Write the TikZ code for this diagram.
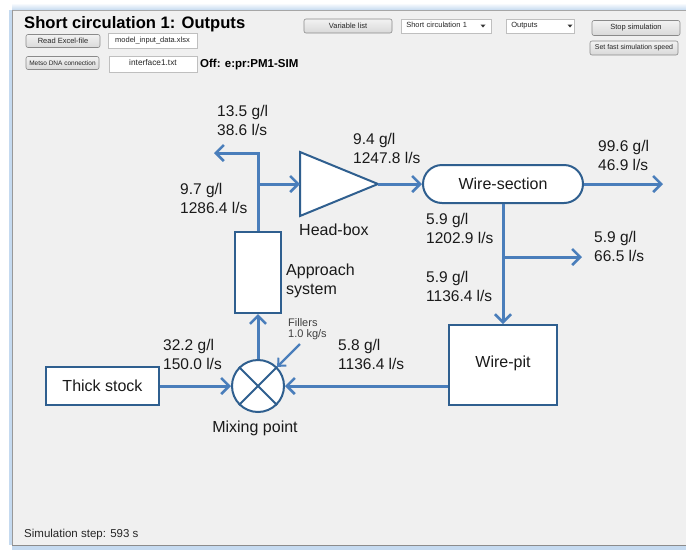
\documentclass[tikz,border=0pt]{standalone}
\usepackage{fontspec}
\setmainfont{Liberation Sans}
\usetikzlibrary{arrows.meta}
\definecolor{bg}{HTML}{F0F0F0}
\definecolor{flow}{HTML}{4A7EBB}
\definecolor{edgec}{HTML}{2F5F8F}
\definecolor{framec}{HTML}{C5DAF0}
\definecolor{btnb}{HTML}{8A8A8A}
\definecolor{txt}{HTML}{1A1A1A}
\begin{document}
\begin{tikzpicture}[x=1pt,y=-1pt,
  flowline/.style={draw=flow, line width=3pt, -{Straight Barb[length=8pt,width=16pt,line width=2.6pt]}},
  unit/.style={draw=edgec, fill=white, line width=2pt, font=\fontsize{16}{19}\selectfont, text=txt, inner sep=0pt},
  datalbl/.style={font=\fontsize{15.5}{18.7}\selectfont, text=txt, align=left, anchor=north west, inner sep=0pt},
  unitlbl/.style={font=\fontsize{16}{18.5}\selectfont, text=txt, align=left, inner sep=0pt},
  button/.style={draw=btnb, rounded corners=2pt, top color=white!95!black, bottom color=white!85!black, line width=0.6pt, font=\fontsize{7.5}{9}\selectfont, text=black!85, inner sep=0pt},
  field/.style={draw=black!25, fill=white, line width=0.6pt, font=\fontsize{7.5}{9}\selectfont, text=black!85, inner sep=0pt, text height=5.5pt, text depth=1.6pt},
]
\useasboundingbox (0,0) rectangle (686,550);
% window
\fill[white] (0,0) rectangle (686,550);
\fill[bg] (12,10) rectangle (686,545);
\shade[top color=white, bottom color=framec] (12,3) rectangle (686,10);
\draw[black!35, line width=0.6pt] (12,10) -- (686,10);
\fill[framec] (9,10) rectangle (12,545);
\draw[black!40, line width=0.6pt] (12,10) -- (12,545);
\fill[framec] (12,545) rectangle (686,550);
\draw[black!45, line width=0.8pt] (12,545) -- (686,545);

% toolbar
\node[anchor=base west, font=\fontsize{16.6}{19}\selectfont\bfseries, inner sep=0pt] (title) at (24,28) {Short circulation 1: Outputs};
\node[button, minimum width=74pt, minimum height=13pt] (readx) at (63,41) {Read Excel-file};
\node[field, minimum width=89pt, minimum height=15pt] (xfile) at (152.5,41) {model\_input\_data.xlsx};
\node[button, minimum width=73pt, minimum height=13pt, font=\fontsize{6.5}{8}\selectfont] (metso) at (62.5,63) {Metso DNA connection};
\node[field, minimum width=88pt, minimum height=16pt, font=\fontsize{8.3}{9}\selectfont] (iface) at (153,64) {interface1.txt};
\node[anchor=base west, font=\fontsize{11.5}{13}\selectfont\bfseries, inner sep=0pt] (offtxt) at (200,67) {Off: e:pr:PM1-SIM};
\node[button, minimum width=88pt, minimum height=14pt] (varlist) at (348,26) {Variable list};
\node[field, minimum width=90pt, minimum height=14pt, anchor=west, text width=80pt, align=left, inner xsep=2pt] (dd1) at (401,26) {Short circulation 1};
\node[field, minimum width=68pt, minimum height=14pt, anchor=west, text width=58pt, align=left, inner xsep=2pt] (dd2) at (506,26) {Outputs};
\fill[black!80] (480.5,24.5) -- (485.5,24.5) -- (483,27.5) -- cycle;
\fill[black!80] (567.5,24.5) -- (572.5,24.5) -- (570,27.5) -- cycle;
\node[button, minimum width=88pt, minimum height=15pt] (stop) at (636,28) {Stop simulation};
\node[button, minimum width=88pt, minimum height=14pt, font=\fontsize{7}{8}\selectfont] (fast) at (634,48) {Set fast simulation speed};

% units
\node[unit, minimum width=113pt, minimum height=38pt] (thick) at (102.5,386) {Thick stock};
\node[unit, circle, minimum size=52pt] (mix) at (258,386) {};
\draw[edgec, line width=2pt] (mix.north west) -- (mix.south east) (mix.north east) -- (mix.south west);
\node[unitlbl, anchor=north] (mixlbl) at (255,421) {Mixing point};
\node[unit, minimum width=46pt, minimum height=81pt] (app) at (258,272.5) {};
\node[unitlbl, anchor=north west] (applbl) at (286,264) {Approach\\system};
\draw[edgec, fill=white, line width=2pt, line join=miter] (300,152) -- (378,184) -- (300,216) -- cycle;
\coordinate (hbin) at (300,184);
\coordinate (hbout) at (378,184);
\node[unitlbl, anchor=north west] (hblbl) at (299,224) {Head-box};
\node[unit, minimum width=160pt, minimum height=38pt, rounded corners=19pt] (ws) at (503,184) {Wire-section};
\node[unit, minimum width=108pt, minimum height=80pt] (pit) at (503,365) {};
\node[unitlbl] (pitlbl) at (503,363) {Wire-pit};

% connectors
\coordinate (j1) at (258,184);
\coordinate (j2) at (258,153);
\coordinate (out1) at (214,153);
\coordinate (out2) at (663,184);
\coordinate (j3) at (503,257);
\coordinate (out3) at (582,257);
\coordinate (fillsrc) at (300,344);
\draw[flowline] (thick.east) -- (mix.west);
\draw[flowline] (pit.west |- mix.east) -- (mix.east);
\draw[flowline] (mix.north) -- (app.south);
\draw[flowline] (app.north) -- (j2) -- (out1);
\draw[flowline] (j1) -- (hbin);
\draw[flowline] (hbout) -- (ws.west);
\draw[flowline] (ws.east) -- (out2);
\draw[flowline] (ws.south) -- (pit.north);
\draw[flowline] (j3) -- (out3);
\draw[draw=flow, line width=2.2pt, -{Straight Barb[length=6pt,width=11pt,line width=2pt]}] (fillsrc) -- (mix.north east);

% data labels
\node[datalbl] (l1) at (217,105) {13.5 g/l\\38.6 l/s};
\node[datalbl] (l2) at (180,183) {9.7 g/l\\1286.4 l/s};
\node[datalbl] (l3) at (353,133) {9.4 g/l\\1247.8 l/s};
\node[datalbl] (l4) at (598,140) {99.6 g/l\\46.9 l/s};
\node[datalbl] (l5) at (426,213) {5.9 g/l\\1202.9 l/s};
\node[datalbl] (l6) at (594,231) {5.9 g/l\\66.5 l/s};
\node[datalbl] (l7) at (426,271) {5.9 g/l\\1136.4 l/s};
\node[datalbl] (l8) at (163,339) {32.2 g/l\\150.0 l/s};
\node[datalbl] (l9) at (338,339) {5.8 g/l\\1136.4 l/s};
\node[font=\fontsize{11}{11.5}\selectfont, text=black!75, align=left, anchor=north west, inner sep=0pt] (fillers) at (288,318) {Fillers\\1.0 kg/s};

\node[anchor=base west, font=\fontsize{11.5}{13}\selectfont, text=black!85, inner sep=0pt] (simstep) at (24,537) {Simulation step: 593 s};
\end{tikzpicture}
\end{document}
